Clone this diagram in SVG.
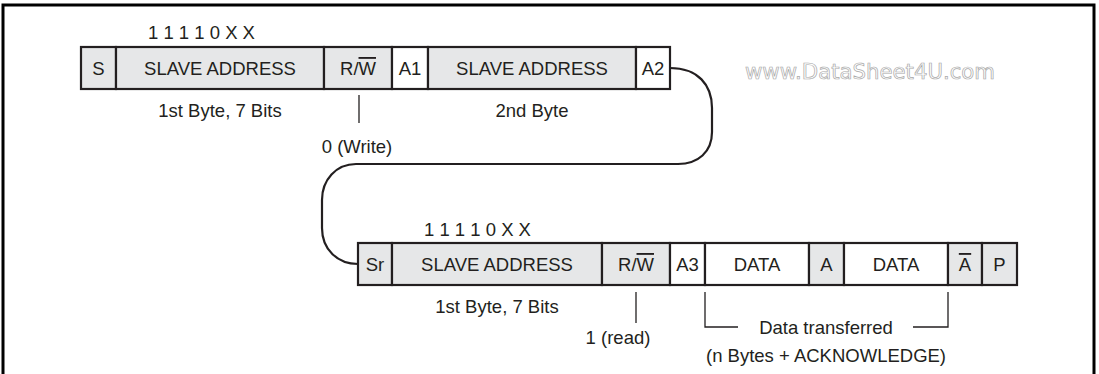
<svg xmlns="http://www.w3.org/2000/svg" width="1099" height="374" viewBox="0 0 1099 374">
<style>
.g{fill:#e6e7e8;stroke:#231f20;stroke-width:2.2}
.w{fill:#ffffff;stroke:#231f20;stroke-width:2.2}
text{font-family:"Liberation Sans",Arial,sans-serif;font-size:18.5px;fill:#231f20}
.c{text-anchor:middle}
.tick{stroke:#231f20;stroke-width:1.3;fill:none}
.ol{text-decoration:overline}
</style>
<rect x="0" y="0" width="1099" height="374" fill="#ffffff"/>
<path d="M3,380 L3,5 L1094,5 L1094,380" fill="none" stroke="#000" stroke-width="3"/>
<text x="745" y="79" textLength="250" lengthAdjust="spacingAndGlyphs" style="font-family:'DejaVu Sans',sans-serif;font-size:21px;fill:#ffffff;stroke:#a8a8a8;stroke-width:0.7">www.DataSheet4U.com</text>

<g id="row1">
<g id="S"><rect class="g" x="81" y="47" width="35" height="42"/><text class="c" x="98.5" y="75">S</text></g>
<g id="SA1"><rect class="g" x="116" y="47" width="208" height="42"/><text class="c" x="220" y="75">SLAVE ADDRESS</text></g>
<g id="RW1"><rect class="g" x="324" y="47" width="68" height="42"/><text class="c" x="358" y="75">R/<tspan class="ol">W</tspan></text></g>
<g id="A1"><rect class="w" x="392" y="47" width="36" height="42"/><text class="c" x="410" y="75">A1</text></g>
<g id="SA2"><rect class="g" x="428" y="47" width="208" height="42"/><text class="c" x="532" y="75">SLAVE ADDRESS</text></g>
<g id="A2"><rect class="w" x="636" y="47" width="34" height="42"/><text class="c" x="653" y="75">A2</text></g>
</g>
<text x="148" y="39">1 1 1 1 0 X X</text>
<text class="c" x="220" y="117">1st Byte, 7 Bits</text>
<text class="c" x="532" y="117">2nd Byte</text>
<text class="c" x="357" y="153">0 (Write)</text>

<g id="row2">
<g id="Sr"><rect class="g" x="358" y="243" width="34" height="42"/><text class="c" x="375" y="271">Sr</text></g>
<g id="SA3"><rect class="g" x="392" y="243" width="210" height="42"/><text class="c" x="497" y="271">SLAVE ADDRESS</text></g>
<g id="RW2"><rect class="g" x="602" y="243" width="68" height="42"/><text class="c" x="636" y="271">R/<tspan class="ol">W</tspan></text></g>
<g id="A3"><rect class="w" x="670" y="243" width="35" height="42"/><text class="c" x="687.5" y="271">A3</text></g>
<g id="DATA1"><rect class="w" x="705" y="243" width="104" height="42"/><text class="c" x="757" y="271">DATA</text></g>
<g id="A"><rect class="g" x="809" y="243" width="35" height="42"/><text class="c" x="826.5" y="271">A</text></g>
<g id="DATA2"><rect class="w" x="844" y="243" width="104" height="42"/><text class="c" x="896" y="271">DATA</text></g>
<g id="NA"><rect class="g" x="948" y="243" width="34" height="42"/><text class="c" x="965" y="271"><tspan class="ol">A</tspan></text></g>
<g id="P"><rect class="g" x="982" y="243" width="35" height="42"/><text class="c" x="999.5" y="271">P</text></g>
</g>
<text x="424" y="236">1 1 1 1 0 X X</text>
<text class="c" x="497" y="313">1st Byte, 7 Bits</text>
<text class="c" x="618" y="344">1 (read)</text>
<text class="c" x="826" y="334">Data transferred</text>
<text class="c" x="826" y="362">(n Bytes + ACKNOWLEDGE)</text>

<g id="connectors">
<path d="M670,68 C698,68 712,85 712,108 L712,132 C712,152 698,164 678,164 L356,164 C336,164 322,180 322,200 L322,228 C322,250 338,264 358,264" fill="none" stroke="#231f20" stroke-width="2.2"/>
<path class="tick" d="M359,95 L359,123"/>
<path class="tick" d="M636,292 L636,323"/>
<path class="tick" d="M705,292 L705,327 L738,327"/>
<path class="tick" d="M948,292 L948,327 L913,327"/>
</g>
</svg>
